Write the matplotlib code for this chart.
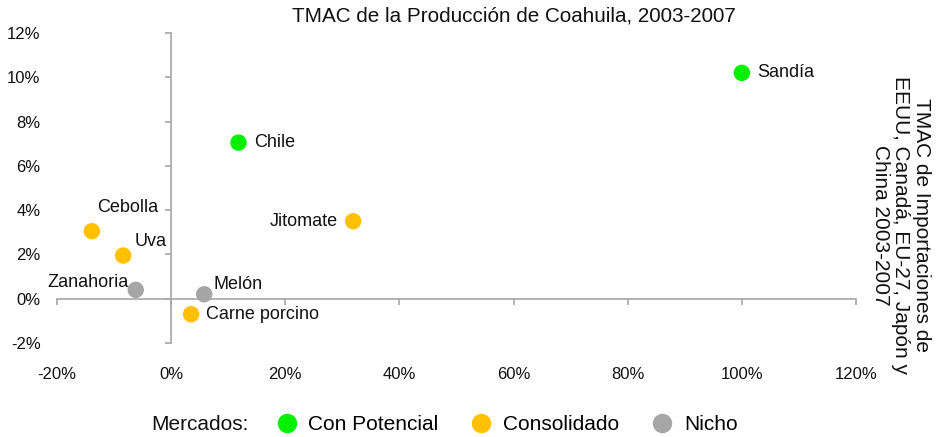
import matplotlib
matplotlib.use("Agg")
import matplotlib.pyplot as plt
from matplotlib.lines import Line2D
from matplotlib.ticker import FuncFormatter, MultipleLocator

plt.rcParams['font.family'] = ['Liberation Sans', 'DejaVu Sans']

# Data (x: TMAC producción Coahuila %, y: TMAC importaciones %)
products = ["Sandía", "Chile", "Jitomate", "Cebolla", "Uva", "Zanahoria", "Melón", "Carne porcino"]
x_vals = [100.0, 11.8, 31.9, -13.9, -8.4, -6.2, 5.8, 3.5]
y_vals = [10.2, 7.05, 3.5, 3.05, 1.95, 0.4, 0.2, -0.7]
market = ["Con Potencial", "Con Potencial", "Consolidado", "Consolidado", "Consolidado",
          "Nicho", "Nicho", "Consolidado"]
categories = ["Con Potencial", "Consolidado", "Nicho"]
colors = {"Con Potencial": "#00F000", "Consolidado": "#FFC000", "Nicho": "#A6A6A6"}

# label offsets in points (dx, dy, ha, va)
label_pos = {
    "Sandía": (11, 0, "left", "center"),
    "Chile": (11, 0, "left", "center"),
    "Jitomate": (-11, 0, "right", "center"),
    "Cebolla": (3.5, 14, "left", "baseline"),
    "Uva": (8, 7, "left", "baseline"),
    "Zanahoria": (-5, 2, "right", "baseline"),
    "Melón": (6.5, 3.5, "left", "baseline"),
    "Carne porcino": (11, 0, "left", "center"),
}

fig = plt.figure(figsize=(9.37, 4.37), dpi=100)
ax = fig.add_axes([57 / 937, 1 - 343 / 437, 799 / 937, 310 / 437])
ax.set_xlim(-20, 120)
ax.set_ylim(-2, 12)

for sp in ["top", "right"]:
    ax.spines[sp].set_visible(False)
for sp in ["left", "bottom"]:
    ax.spines[sp].set_position(("data", 0))
    ax.spines[sp].set_color("#A6A6A6")
    ax.spines[sp].set_linewidth(1.2)

ax.xaxis.set_major_locator(MultipleLocator(20))
ax.yaxis.set_major_locator(MultipleLocator(2))
fmt = FuncFormatter(lambda v, p: f"{v:.0f}%")
ax.xaxis.set_major_formatter(fmt)
ax.yaxis.set_major_formatter(fmt)
ax.tick_params(axis="both", direction="out", length=4, width=1.2, color="#A6A6A6",
               labelsize=12, labelcolor="#111111")
ax.tick_params(axis="y", pad=90)
ax.tick_params(axis="x", pad=45)

for name, x, y, m in zip(products, x_vals, y_vals, market):
    ax.scatter(x, y, s=140, color=colors[m], edgecolors="none", zorder=3)
    dx, dy, ha, va = label_pos[name]
    ax.annotate(name, (x, y), xytext=(dx, dy), textcoords="offset points",
                ha=ha, va=va, fontsize=13, color="#111111")

fig.text(514 / 937, 1 - 16 / 437, "TMAC de la Producción de Coahuila, 2003-2007",
         ha="center", va="center", fontsize=14.9, color="#111111")

fig.text(901 / 937, 1 - 225 / 437,
         "TMAC de Importaciones de\nEEUU, Canadá, EU-27, Japón y\nChina 2003-2007",
         rotation=-90, ha="center", va="center", multialignment="center",
         fontsize=15, color="#111111", linespacing=1.1)

fig.text(151 / 937, 1 - 425 / 437, "Mercados:", ha="left", va="center",
         fontsize=15, color="#111111")
handles = [Line2D([], [], linestyle="none", marker="o", markersize=14,
                  markerfacecolor=colors[c], markeredgecolor="none") for c in categories]
fig.legend(handles, categories, loc="center left", bbox_to_anchor=(274 / 937, 1 - 425 / 437),
           ncol=3, frameon=False, fontsize=15, handletextpad=0.45, columnspacing=1.45,
           handlelength=1.2, borderaxespad=0, borderpad=0)

fig.savefig("out.png", dpi=100)
